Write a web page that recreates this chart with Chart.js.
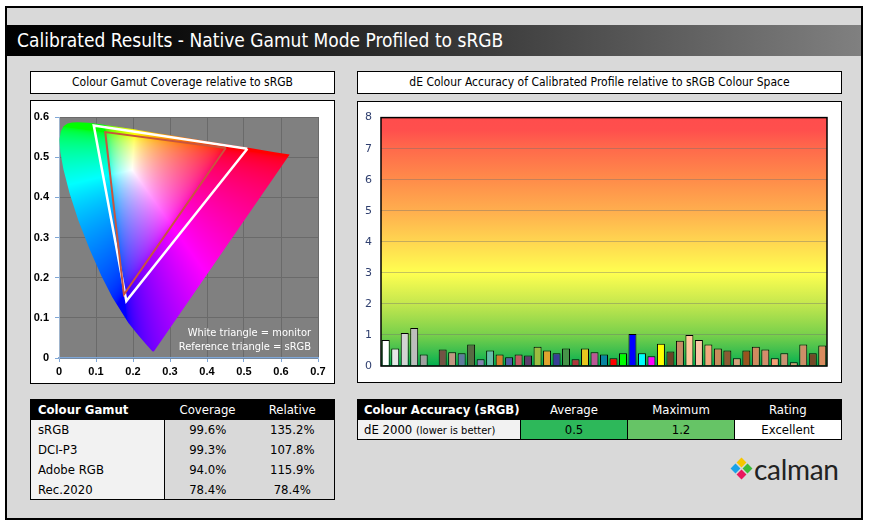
<!DOCTYPE html>
<html><head><meta charset="utf-8">
<script src="https://cdn.jsdelivr.net/npm/chart.js@4.4.1/dist/chart.umd.min.js"></script>
<style>
html,body{margin:0;padding:0;background:#fff;width:872px;height:521px;overflow:hidden;font-family:"DejaVu Sans Condensed","DejaVu Sans",sans-serif;}
.abs{position:absolute;box-sizing:border-box;}
#frame{left:5px;top:6px;width:858px;height:514px;border:2px solid #000;background:#d9d9d9;}
#titlebar{left:7px;top:25px;width:854px;height:31px;background:linear-gradient(to right,#000 0%,#0d0d0d 20%,#3a3a3a 55%,#808080 100%);color:#fff;font-size:19px;line-height:31px;padding-left:10px;}
.hdr{background:#fff;border:1px solid #000;height:23px;font-size:12px;line-height:21px;text-align:center;color:#000;}
.box{background:#fff;border:1px solid #000;}
table{border-collapse:collapse;font-size:13px;table-layout:fixed;}
td{border:0;padding:0;height:20px;box-sizing:border-box;}
.th td{background:#000;color:#fff;}
.tbl{border:1px solid #000;}
</style></head>
<body>
<div id="frame" class="abs"></div>
<div id="titlebar" class="abs">Calibrated Results - Native Gamut Mode Profiled to sRGB</div>
<div class="abs hdr" style="left:30px;top:71px;width:305px;">Colour Gamut Coverage relative to sRGB</div>
<div class="abs hdr" style="left:357px;top:71px;width:485px;">dE Colour Accuracy of Calibrated Profile relative to sRGB Colour Space</div>
<div class="abs box" style="left:30px;top:100px;width:305px;height:284px;"></div>
<div class="abs box" style="left:357px;top:101px;width:485px;height:282px;"></div>
<div class="abs" style="left:31px;top:101px;width:303px;height:282px;"><canvas id="cie"></canvas></div>
<div class="abs" style="left:358px;top:102px;width:483px;height:280px;"><canvas id="de"></canvas></div>

<table class="abs tbl" style="left:30px;top:399px;width:305px;">
<colgroup><col style="width:134px"><col style="width:86px"><col></colgroup>
<tr class="th"><td style="padding-left:7px;font-weight:bold;">Colour Gamut</td><td style="text-align:center;">Coverage</td><td style="text-align:center;">Relative</td></tr>
<tr><td style="background:#f2f2f2;padding-left:7px;border-right:1px solid #000;">sRGB</td><td style="text-align:center;">99.6%</td><td style="text-align:center;">135.2%</td></tr>
<tr><td style="background:#f2f2f2;padding-left:7px;border-right:1px solid #000;">DCI-P3</td><td style="text-align:center;">99.3%</td><td style="text-align:center;">107.8%</td></tr>
<tr><td style="background:#f2f2f2;padding-left:7px;border-right:1px solid #000;">Adobe RGB</td><td style="text-align:center;">94.0%</td><td style="text-align:center;">115.9%</td></tr>
<tr><td style="background:#f2f2f2;padding-left:7px;border-right:1px solid #000;">Rec.2020</td><td style="text-align:center;">78.4%</td><td style="text-align:center;">78.4%</td></tr>
</table>

<table class="abs tbl" style="left:357px;top:399px;width:485px;">
<colgroup><col style="width:163px"><col style="width:107px"><col style="width:107px"><col></colgroup>
<tr class="th"><td style="padding-left:6px;font-weight:bold;">Colour Accuracy (sRGB)</td><td style="text-align:center;">Average</td><td style="text-align:center;">Maximum</td><td style="text-align:center;">Rating</td></tr>
<tr><td style="background:#f2f2f2;padding-left:6px;">dE 2000 <span style="font-size:11px;">(lower is better)</span></td><td style="background:#2db85a;text-align:center;border-left:1px solid #000;">0.5</td><td style="background:#66c466;text-align:center;border-left:1px solid #000;">1.2</td><td style="background:#fff;text-align:center;border-left:1px solid #000;">Excellent</td></tr>
</table>

<div class="abs" style="left:731px;top:458px;width:22px;height:22px;">
  <div class="abs" style="left:7px;top:1px;width:7px;height:7px;background:#f7c600;transform:rotate(45deg);"></div>
  <div class="abs" style="left:1px;top:7px;width:7px;height:7px;background:#1aa3e8;transform:rotate(45deg);"></div>
  <div class="abs" style="left:13px;top:7px;width:7px;height:7px;background:#3dbb3a;transform:rotate(45deg);"></div>
  <div class="abs" style="left:7px;top:13px;width:7px;height:7px;background:#e9175e;transform:rotate(45deg);"></div>
</div>
<div class="abs" style="left:754px;top:452px;font-family:Lato,'Open Sans',sans-serif;font-size:28px;color:#222;letter-spacing:-0.3px;">calman</div>

<script>
// ---- Data ----
// CIE 1976 u'v' spectral locus (380..700 nm)
const locusU = [0.2568,0.2557,0.2522,0.2347,0.2161,0.1877,0.1441,0.1147,0.0828,0.0521,0.0282,0.0119,0.0035,0.0014,0.0046,0.0123,0.0231,0.0360,0.0501,0.0792,0.1127,0.1531,0.2026,0.2623,0.3315,0.4035,0.5203,0.5830,0.6234];
const locusV = [0.0166,0.0159,0.0169,0.0350,0.0549,0.0871,0.1510,0.2044,0.2708,0.3427,0.4117,0.4698,0.5131,0.5432,0.5638,0.5770,0.5837,0.5861,0.5868,0.5856,0.5821,0.5766,0.5694,0.5604,0.5501,0.5393,0.5219,0.5125,0.5065];
const srgbU = [0.4507,0.1250,0.1754];
const srgbV = [0.5229,0.5625,0.1579];
const monitorU = [0.509,0.094,0.182];
const monitorV = [0.521,0.579,0.142];
const cieTickStepX = 0.1, cieMaxX = 0.7, cieTickStepY = 0.1, cieMaxY = 0.6;

const patchLabels = ['White','Gray 90','Gray 80','Gray 70','Gray 60','','Dark Skin','Light Skin','Blue Sky','Foliage','Blue Flower','Bluish Green','Orange','Purplish Blue','Moderate Red','Purple','Yellow Green','Orange Yellow','Blue','Green','Red','Yellow','Magenta','Cyan','100% Red','100% Green','100% Blue','100% Cyan','100% Magenta','100% Yellow','Skin 1','Skin 2','Skin 3','Skin 4','Skin 5','Skin 6','Skin 7','Skin 8','Skin 9','Skin 10','Skin 11','Skin 12','Skin 13','Skin 14','Skin 15','Skin 16','Skin 17'];
const deValues = [0.84,0.56,1.06,1.22,0.37,null,0.53,0.44,0.41,0.69,0.22,0.50,0.37,0.28,0.37,0.34,0.62,0.50,0.41,0.56,0.22,0.56,0.44,0.37,0.25,0.41,1.03,0.41,0.31,0.72,0.47,0.81,1.00,0.84,0.69,0.56,0.50,0.25,0.50,0.62,0.53,0.25,0.41,0.12,0.69,0.41,0.66];
const barColors = ['#ffffff','#e6e6e6','#d3d3d3','#bdbdbd','#a0a0a0','#000000','#735244','#c29682','#5f7a9c','#576c43','#8580b1','#67bdaa','#d67e2c','#505ba6','#c15a63','#5e3c6c','#9dbc40','#e0a32e','#383d96','#469449','#af363c','#e7c71f','#bb5695','#0885a1','#ff0000','#00ff00','#0000ff','#00ffff','#ff00ff','#ffff00','#6b4126','#c88b66','#ffc99c','#fbc5a7','#f1a77d','#c78b5c','#8b5a33','#d4a07c','#99531f','#d08a60','#d48c6c','#f69e76','#c99272','#d39a74','#cc8e68','#734827','#d98c5f'];
const deMax = 8;

// ---- CIE chart ----
const toPts = (us, vs) => us.map((u, i) => ({x: u, y: vs[i]}));
const closed = (us, vs) => { const p = toPts(us, vs); p.push(p[0]); return p; };

function gam(c){ c = Math.max(0, Math.min(1, c)); return c <= 0.0031308 ? 12.92*c : 1.055*Math.pow(c, 1/2.4) - 0.055; }

const plotBg = {
  id: 'plotBg',
  beforeDraw(chart, args, opts){
    const {ctx, chartArea: a} = chart;
    ctx.save(); ctx.fillStyle = opts.color; ctx.fillRect(a.left, a.top, a.right - a.left, a.bottom - a.top); ctx.restore();
  }
};
const gamutFill = {
  id: 'gamutFill',
  beforeDatasetsDraw(chart){
    const {ctx, chartArea: a, scales: {x, y}} = chart;
    const pts = chart.getDatasetMeta(0).data;
    const dpr = chart.currentDevicePixelRatio || 1;
    const W = a.right - a.left, H = a.bottom - a.top;
    const w = Math.round(W * dpr), h = Math.round(H * dpr);
    const off = document.createElement('canvas'); off.width = w; off.height = h;
    const octx = off.getContext('2d');
    const img = octx.createImageData(w, h);
    for (let j = 0; j < h; j++) {
      const v = y.getValueForPixel(a.top + (j + 0.5) / dpr);
      for (let i = 0; i < w; i++) {
        const u = x.getValueForPixel(a.left + (i + 0.5) / dpr);
        const d = 6*u - 16*v + 12;
        const xx = 9*u/d, yy = 4*v/d;
        const k = (j*w + i) * 4;
        if (yy <= 0.0005) { img.data[k+3] = 0; continue; }
        const X = xx/yy, Z = (1 - xx - yy)/yy;
        let r = 3.2406*X - 1.5372 - 0.4986*Z;
        let g = -0.9689*X + 1.8758 + 0.0415*Z;
        let b = 0.0557*X - 0.2040 + 1.0570*Z;
        r = Math.max(0, r); g = Math.max(0, g); b = Math.max(0, b);
        const m = Math.max(r, g, b) || 1;
        img.data[k] = Math.round(gam(r/m)*255);
        img.data[k+1] = Math.round(gam(g/m)*255);
        img.data[k+2] = Math.round(gam(b/m)*255);
        img.data[k+3] = 255;
      }
    }
    octx.putImageData(img, 0, 0);
    ctx.save();
    ctx.beginPath();
    pts.forEach((p, k) => k ? ctx.lineTo(p.x, p.y) : ctx.moveTo(p.x, p.y));
    ctx.closePath();
    ctx.clip();
    ctx.drawImage(off, a.left, a.top, W, H);
    ctx.restore();
  }
};
const cieNote = {
  id: 'cieNote',
  afterDraw(chart){
    const {ctx, chartArea: a} = chart;
    ctx.save();
    ctx.fillStyle = '#fff';
    ctx.font = '11px "DejaVu Sans Condensed", "DejaVu Sans", sans-serif';
    ctx.textAlign = 'right';
    ctx.textBaseline = 'alphabetic';
    ctx.fillText('White triangle = monitor', a.right - 7, a.bottom - 22);
    ctx.fillText('Reference triangle = sRGB', a.right - 7, a.bottom - 8);
    ctx.restore();
  }
};

new Chart(document.getElementById('cie'), {
  type: 'scatter',
  data: {
    datasets: [
      {data: toPts(locusU, locusV), showLine: false, pointRadius: 0},
      {data: closed(srgbU, srgbV), showLine: true, borderColor: '#c8553f', borderWidth: 2, pointRadius: 0, fill: false},
      {data: closed(monitorU, monitorV), showLine: true, borderColor: '#ffffff', borderWidth: 2.5, pointRadius: 0, fill: false}
    ]
  },
  options: {
    animation: false, responsive: true, maintainAspectRatio: false,
    layout: {padding: {top: 16, right: 16, bottom: 0, left: 0}},
    plugins: {legend: {display: false}, tooltip: {enabled: false}, plotBg: {color: '#808080'}},
    scales: {
      x: {type: 'linear', min: 0, max: cieMaxX,
          ticks: {stepSize: cieTickStepX, color: '#000', font: {size: 11, weight: 'bold', family: '"Liberation Sans", Arial, sans-serif'}, padding: 3, callback: v => (Math.round(v*10)/10).toString()},
          grid: {color: '#6a6a6a', tickColor: '#7fa7d8', tickLength: 4},
          border: {color: '#7fa7d8', width: 1.5},
          afterFit(s){ s.height = 25; }},
      y: {type: 'linear', min: 0, max: cieMaxY,
          ticks: {stepSize: cieTickStepY, color: '#000', font: {size: 11, weight: 'bold', family: '"Liberation Sans", Arial, sans-serif'}, padding: 6, callback: v => (Math.round(v*10)/10).toString()},
          grid: {color: '#6a6a6a', tickColor: '#7fa7d8', tickLength: 4},
          border: {color: '#9fb4cc', width: 1},
          afterFit(s){ s.width = 28; }}
    }
  },
  plugins: [plotBg, gamutFill, cieNote]
});

// ---- dE bar chart ----
const deBg = {
  id: 'deBg',
  beforeDraw(chart){
    const {ctx, chartArea: a, scales: {y}} = chart;
    const y0 = y.getPixelForValue(0), y8 = y.getPixelForValue(deMax);
    const g = ctx.createLinearGradient(0, y8, 0, y0);
    const stops = [[8,'#ff4d4d'],[7.6,'#ff4f4d'],[7,'#ff6a4b'],[6,'#ff8c4a'],[5,'#ffae4e'],[4,'#ffd650'],[3,'#ffff50'],[2,'#c4e74e'],[1,'#78d04b'],[0.5,'#40bf4e'],[0,'#00b050']];
    stops.forEach(([v, c]) => g.addColorStop((y.getPixelForValue(v) - y8) / (y0 - y8), c));
    ctx.save(); ctx.fillStyle = g; ctx.fillRect(a.left, a.top, a.right - a.left, a.bottom - a.top); ctx.restore();
  },
  afterDatasetsDraw(chart){
    const {ctx, chartArea: a} = chart;
    ctx.save(); ctx.strokeStyle = '#000'; ctx.lineWidth = 1.5;
    ctx.strokeRect(a.left, a.top, a.right - a.left, a.bottom - a.top); ctx.restore();
  }
};

new Chart(document.getElementById('de'), {
  type: 'bar',
  data: {labels: patchLabels, datasets: [{data: deValues, backgroundColor: barColors, borderColor: '#000', borderWidth: 1, barPercentage: 0.84, categoryPercentage: 1}]},
  options: {
    animation: false, responsive: true, maintainAspectRatio: false,
    layout: {padding: {top: 13, right: 14, bottom: 16, left: 0}},
    plugins: {legend: {display: false}, tooltip: {enabled: false}},
    scales: {
      x: {display: false},
      y: {min: 0, max: deMax,
          ticks: {stepSize: 1, color: '#2f3f6f', font: {size: 11, family: '"DejaVu Sans", sans-serif'}, padding: 9},
          grid: {color: 'rgba(110,110,110,0.4)', drawTicks: false},
          border: {display: false},
          afterFit(s){ s.width = 23; }}
    }
  },
  plugins: [deBg]
});
</script>
</body></html>
